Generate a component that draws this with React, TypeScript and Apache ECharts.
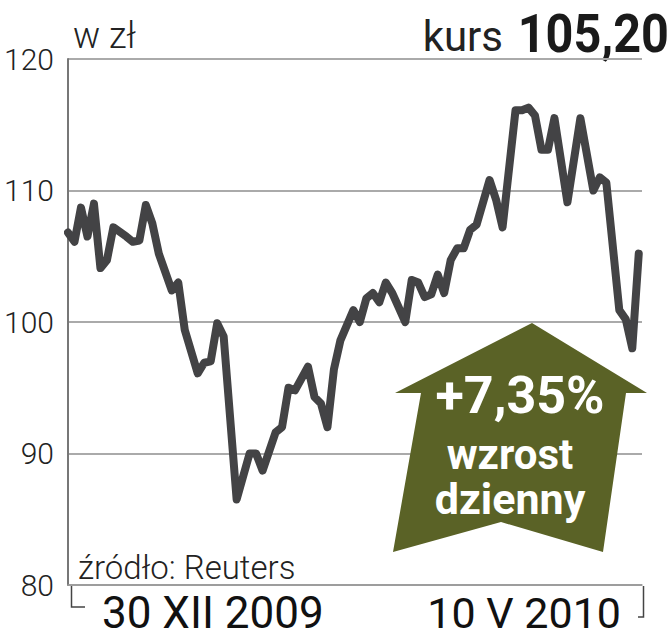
import React, { useEffect, useRef } from "react";
import * as echarts from "echarts";

// Trading-day index (from 30 XII 2009) and closing price in zł
const days = [0, 1, 2, 3, 4, 5, 6, 7, 9, 10, 11, 12, 13, 14, 16, 17, 18, 20, 21, 22, 23, 24, 26, 28, 29, 30, 32, 33, 34, 35, 37, 38, 39, 40, 41, 42, 44, 45, 46, 47, 48, 49, 50, 52, 53, 54, 55, 56, 57, 58, 59, 60, 61, 62, 63, 65, 66, 67, 69, 70, 71, 72, 73, 74, 75, 77, 79, 81, 82, 83, 85, 86, 87, 88];
const prices = [106.8, 106.1, 108.7, 106.5, 109.0, 104.1, 104.7, 107.2, 106.5, 106.1, 106.2, 108.9, 107.5, 105.2, 102.4, 103.0, 99.4, 96.1, 96.9, 97.0, 99.9, 98.9, 86.5, 90.0, 90.0, 88.7, 91.6, 92.0, 95.0, 94.8, 96.6, 94.3, 93.8, 92.0, 96.4, 98.6, 100.9, 100.0, 101.8, 102.2, 101.5, 103.0, 102.2, 100.0, 103.2, 103.0, 101.9, 102.1, 103.6, 102.2, 104.7, 105.6, 105.6, 107.0, 107.4, 110.8, 109.3, 107.2, 116.1, 116.1, 116.3, 115.7, 113.1, 113.1, 115.5, 109.1, 115.5, 110.0, 111.0, 110.6, 100.9, 100.2, 98.0, 105.2];
const yTicks = [80, 90, 100, 110, 120];
const startLabel = "30 XII 2009";
const endLabel = "10 V 2010";
const unitLabel = "w zł";
const kursLabel = "kurs";
const kursValue = "105,20";
const changeLabel = "+7,35%";
const changeText1 = "wzrost";
const changeText2 = "dzienny";
const sourceLabel = "źródło: Reuters";

export default function App() {
  const ref = useRef<HTMLDivElement>(null);
  useEffect(() => {
    if (!ref.current) return;
    const chart = echarts.init(ref.current, null, { renderer: "svg" });
    const font = "Roboto, 'Noto Sans', sans-serif";
    chart.setOption({
      animation: false,
      backgroundColor: "#ffffff",
      grid: { left: 68, right: 30, top: 59, bottom: 55 },
      xAxis: {
        type: "value",
        min: 0,
        max: 88.5,
        axisLine: { show: true, lineStyle: { color: "#999", width: 1.5 } },
        axisTick: { show: false },
        axisLabel: { show: false },
        splitLine: { show: false },
      },
      yAxis: {
        type: "value",
        min: yTicks[0],
        max: yTicks[yTicks.length - 1],
        interval: 10,
        axisLine: { show: true, lineStyle: { color: "#777", width: 2 } },
        axisTick: { show: false },
        axisLabel: {
          margin: 14,
          fontFamily: font,
          fontWeight: 300,
          fontSize: 30,
          color: "#222",
        },
        splitLine: { show: true, lineStyle: { color: "#aaa", width: 2 } },
      },
      series: [
        {
          type: "line",
          data: days.map((d, i) => [d, prices[i]]),
          symbol: "none",
          z: 5,
          lineStyle: { color: "#434345", width: 8, join: "round", cap: "round" },
        },
      ],
      graphic: [
        {
          type: "polygon",
          z: 10,
          shape: {
            points: [
              [532, 323],
              [647, 393],
              [626, 393],
              [603, 552],
              [501, 522],
              [393, 552],
              [421, 393],
              [395, 393],
            ],
          },
          style: { fill: "#5a6226" },
        },
        {
          type: "text",
          z: 11,
          x: 520,
          y: 395,
          style: {
            text: changeLabel,
            fill: "#fff",
            font: `bold 52px ${font}`,
            align: "center",
            verticalAlign: "middle",
          },
        },
        {
          type: "text",
          z: 11,
          x: 510,
          y: 454,
          style: {
            text: changeText1,
            fill: "#fff",
            font: `bold 42px ${font}`,
            align: "center",
            verticalAlign: "middle",
          },
        },
        {
          type: "text",
          z: 11,
          x: 510,
          y: 499,
          style: {
            text: changeText2,
            fill: "#fff",
            font: `bold 43px ${font}`,
            align: "center",
            verticalAlign: "middle",
          },
        },
        {
          type: "text",
          x: 73,
          y: 36,
          style: {
            text: unitLabel,
            fill: "#222",
            font: `300 36px ${font}`,
            align: "left",
            verticalAlign: "middle",
          },
        },
        {
          type: "text",
          x: 503,
          y: 36,
          style: {
            text: kursLabel,
            fill: "#222",
            font: `42px ${font}`,
            align: "right",
            verticalAlign: "middle",
          },
        },
        {
          type: "text",
          x: 669,
          y: 34,
          scaleX: 0.9,
          style: {
            text: kursValue,
            fill: "#1a1a1a",
            font: `bold 54px ${font}`,
            align: "right",
            verticalAlign: "middle",
          },
        },
        {
          type: "text",
          x: 78,
          y: 567,
          style: {
            text: sourceLabel,
            fill: "#222",
            font: `300 33px ${font}`,
            align: "left",
            verticalAlign: "middle",
          },
        },
        {
          type: "text",
          x: 102,
          y: 613,
          style: {
            text: startLabel,
            fill: "#111",
            font: `44px ${font}`,
            align: "left",
            verticalAlign: "middle",
          },
        },
        {
          type: "text",
          x: 621,
          y: 613,
          style: {
            text: endLabel,
            fill: "#111",
            font: `43px ${font}`,
            align: "right",
            verticalAlign: "middle",
          },
        },
        {
          type: "polyline",
          shape: { points: [[71.5, 586], [71.5, 607], [85, 607]] },
          style: { stroke: "#444", lineWidth: 1.5, fill: null },
        },
        {
          type: "polyline",
          shape: { points: [[643.5, 586], [643.5, 617], [638, 617]] },
          style: { stroke: "#444", lineWidth: 1.5, fill: null },
        },
      ],
    });
    return () => chart.dispose();
  }, []);
  return (
    <div
      ref={ref}
      style={{ position: "absolute", left: 0, top: 0, width: 672, height: 640 }}
    />
  );
}
